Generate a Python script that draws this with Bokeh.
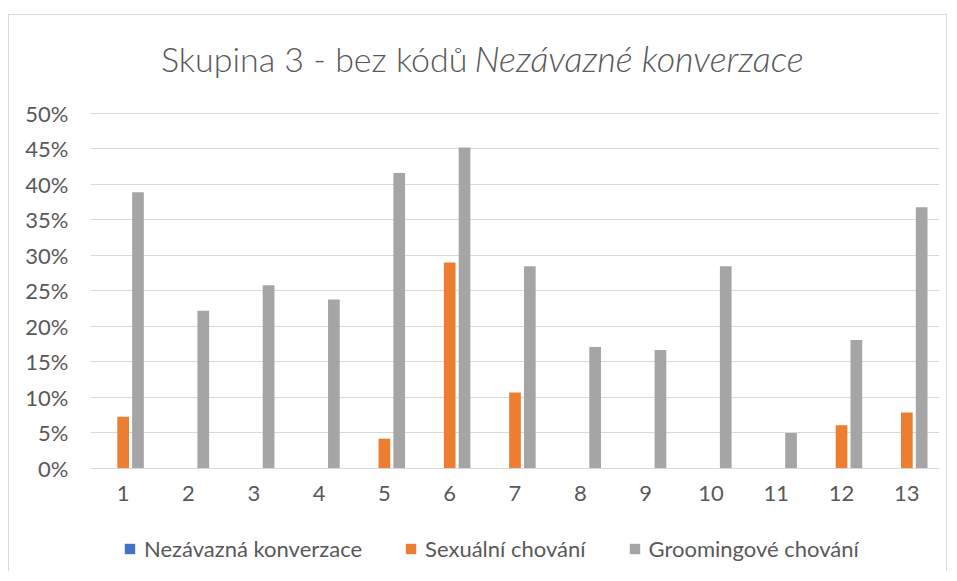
from bokeh.plotting import figure
from bokeh.models import (ColumnDataSource, FactorRange, Range1d, NumeralTickFormatter,
                          FixedTicker, Legend, LegendItem, Label)
from bokeh.transform import dodge
from bokeh.embed import file_html
from bokeh.resources import INLINE

# ---- data ----
categories = ["1", "2", "3", "4", "5", "6", "7", "8", "9", "10", "11", "12", "13"]
nezavazna = [0, 0, 0, 0, 0, 0, 0, 0, 0, 0, 0, 0, 0]
sexualni = [0.073, 0, 0, 0, 0.042, 0.290, 0.107, 0, 0, 0, 0, 0.061, 0.079]
grooming = [0.389, 0.222, 0.258, 0.238, 0.416, 0.452, 0.285, 0.171, 0.167, 0.285, 0.050, 0.181, 0.368]
y_ticks = [0, 0.05, 0.10, 0.15, 0.20, 0.25, 0.30, 0.35, 0.40, 0.45, 0.50]
series_names = ["Nezávazná konverzace", "Sexuální chování", "Groomingové chování"]
title_plain = "Skupina 3 - bez kódů"
title_italic = "Nezávazné konverzace"

FONT = "Lato"
TITLE_FONT = "'Lato Light', Lato"
TXT = "#595959"
colors = ["#4472C4", "#ED7D31", "#A5A5A5"]

source = ColumnDataSource(dict(cat=categories, a=nezavazna, b=sexualni, c=grooming))

# frame spans the whole inner figure height; 0.5 of data = 355 px
p = figure(x_range=FactorRange(*categories), y_range=Range1d(-0.1465, 0.638),
           width=939, height=557, output_backend="svg", toolbar_location=None,
           min_border_left=81, min_border_right=9, min_border_top=0, min_border_bottom=0)
p.styles = {"border": "1px solid #d9d9d9", "border-bottom": "none",
            "margin-top": "14px", "margin-left": "8px"}
p.outline_line_color = None
p.background_fill_color = "white"
p.border_fill_color = "white"

w = 0.179
off = 0.227
r_a = p.vbar(x=dodge("cat", -off, range=p.x_range), top="a", width=w, source=source,
             fill_color=colors[0], line_color=None)
r_b = p.vbar(x=dodge("cat", 0.0, range=p.x_range), top="b", width=w, source=source,
             fill_color=colors[1], line_color=None)
r_c = p.vbar(x=dodge("cat", off, range=p.x_range), top="c", width=w, source=source,
             fill_color=colors[2], line_color=None)

# axes
p.yaxis.ticker = FixedTicker(ticks=y_ticks)
p.yaxis.formatter = NumeralTickFormatter(format="0%")
p.yaxis.axis_line_color = None
p.yaxis.major_tick_line_color = None
p.yaxis.minor_tick_line_color = None
p.yaxis.major_label_standoff = 16
p.yaxis.major_label_text_font = FONT
p.yaxis.major_label_text_font_size = "22px"
p.yaxis.major_label_text_color = TXT

p.xaxis.fixed_location = 0
p.xaxis.axis_line_color = "#d9d9d9"
p.xaxis.major_tick_line_color = None
p.xaxis.minor_tick_line_color = None
p.xaxis.major_label_standoff = 12
p.xaxis.major_label_text_font = FONT
p.xaxis.major_label_text_font_size = "22px"
p.xaxis.major_label_text_color = TXT

p.xgrid.grid_line_color = None
p.ygrid.grid_line_color = "#d9d9d9"
p.ygrid.grid_line_width = 1
p.ygrid.ticker = FixedTicker(ticks=y_ticks)

# title in two parts (plain + italic)
p.add_layout(Label(x=5.771, y=0.5775, text=title_plain, text_align="right", text_baseline="middle",
                   text_font=TITLE_FONT, text_font_size="34px", text_color=TXT))
p.add_layout(Label(x=5.878, y=0.5775, text=title_italic, text_align="left", text_baseline="middle",
                   text_font=TITLE_FONT, text_font_style="italic", text_font_size="36px", text_color=TXT))

legend = Legend(items=[LegendItem(label=series_names[0], renderers=[r_a]),
                       LegendItem(label=series_names[1], renderers=[r_b]),
                       LegendItem(label=series_names[2], renderers=[r_c])],
                orientation="horizontal", location=(33, 10),
                glyph_width=13, glyph_height=13, label_standoff=8, spacing=42,
                padding=0, margin=0, border_line_color=None, background_fill_alpha=0,
                label_text_font=FONT, label_text_font_size="22px", label_text_color=TXT)
p.add_layout(legend)

open("out.html", "w").write(file_html(p, INLINE))
